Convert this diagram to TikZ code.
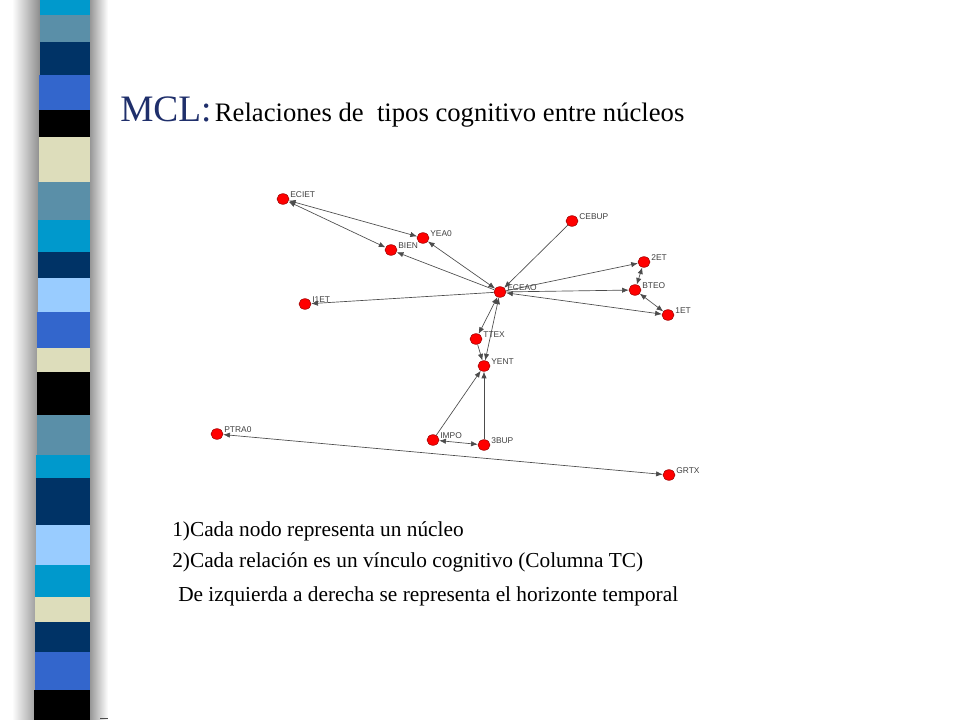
\documentclass[tikz,border=0pt]{standalone}
\usepackage{fontspec}
\setmainfont{Liberation Serif}
\newfontfamily\labelfont{Liberation Sans}
\usetikzlibrary{arrows.meta,shapes.geometric}
\definecolor{cyanband}{HTML}{0099CC}
\definecolor{steelband}{HTML}{5A8FA8}
\definecolor{navyband}{HTML}{003366}
\definecolor{royalband}{HTML}{3366CC}
\definecolor{beigeband}{HTML}{DDDDBB}
\definecolor{lightband}{HTML}{99CCFF}
\definecolor{titlenavy}{HTML}{1F2F6B}
\tikzstyle{nucleo}=[
        ellipse, draw=red!60!black, fill=red, minimum width=9pt, minimum height=8pt, inner sep=0pt
]
\tikzstyle{nlabel}=[
        font=\labelfont\fontsize{6.3}{7}\selectfont, text=black!75, inner sep=1pt
]
\tikzstyle{rel}=[
        draw=black!70, line width=0.5pt, -{Latex[length=5pt,width=4pt]}
]
\tikzstyle{rel2}=[
        draw=black!70, line width=0.5pt, {Latex[length=5pt,width=4pt]}-{Latex[length=5pt,width=4pt]}
]
\begin{document}
\begin{tikzpicture}[x=0.75pt,y=-0.75pt]
                        \useasboundingbox (0,0) rectangle (960,720);
                        % shadow of the stripe
                        \shade[left color=white, right color=black!45] (12,0) rectangle (40,720);
                        \shade[left color=black!45, right color=white] (88,0) rectangle (108,720);
                        % stripe bands
                        \foreach \ya/\yb/\c in {0/15/cyanband, 15/42/steelband, 42/75/navyband,
                            75/110/royalband, 110/137/black, 137/182/beigeband, 182/220/steelband,
                            220/252/cyanband, 252/278/navyband, 278/312/lightband, 312/348/royalband,
                            348/372/beigeband, 372/415/black, 415/455/steelband, 455/478/cyanband,
                            478/525/navyband, 525/565/lightband, 565/597/cyanband, 597/622/beigeband,
                            622/652/navyband, 652/690/royalband, 690/720/black} {
                            \fill[\c] (40-\ya/120,\ya) rectangle (90,\yb);
                        }
                        \draw[black!70] (100,718) -- (108,718);

                        % title
                        \node[anchor=base west, inner sep=0pt] (title) at (120,122)
                            {\textcolor{titlenavy}{\fontsize{28}{30}\selectfont MCL:} \fontsize{20}{22}\selectfont Relaciones de\ \ tipos cognitivo entre núcleos};

                        % nuclei
                        \node[nucleo] (ECIET) at (283,199) {};
                        \node[nucleo] (YEA0) at (423,238) {};
                        \node[nucleo] (BIEN) at (391,250) {};
                        \node[nucleo] (CEBUP) at (572,221) {};
                        \node[nucleo] (2ET) at (644,262) {};
                        \node[nucleo] (ECEAO) at (500,292) {};
                        \node[nucleo] (BTEO) at (635,290) {};
                        \node[nucleo] (1ET) at (668,315) {};
                        \node[nucleo] (I1ET) at (305,304) {};
                        \node[nucleo] (TTEX) at (476,339) {};
                        \node[nucleo] (YENT) at (484,366) {};
                        \node[nucleo] (IMPO) at (433,440) {};
                        \node[nucleo] (3BUP) at (484,445) {};
                        \node[nucleo] (PTRA0) at (217,434) {};
                        \node[nucleo] (GRTX) at (669,475) {};

                        % labels
                        \foreach \n/\t in {ECIET/ECIET, YEA0/YEA0, BIEN/BIEN, CEBUP/CEBUP, 2ET/2ET,
                            ECEAO/ECEAO, BTEO/BTEO, 1ET/1ET, I1ET/I1ET, TTEX/TTEX, YENT/YENT,
                            IMPO/IMPO, 3BUP/3BUP, PTRA0/PTRA0, GRTX/GRTX} {
                            \node[nlabel, anchor=south west] (l\n) at ([xshift=1pt,yshift=-3pt]\n.north east) {\t};
                        }

                        % relations
                        \draw[rel2] (ECIET) -- (YEA0);
                        \draw[rel2] (ECIET) -- (BIEN);
                        \draw[rel2] (ECEAO) -- (YEA0);
                        \draw[rel] (ECEAO) -- (BIEN);
                        \draw[rel] (CEBUP) -- (ECEAO);
                        \draw[rel] (ECEAO) -- (2ET);
                        \draw[rel] (ECEAO) -- (BTEO);
                        \draw[rel2] (ECEAO) -- (1ET);
                        \draw[rel2] (2ET) -- (BTEO);
                        \draw[rel2] (BTEO) -- (1ET);
                        \draw[rel] (ECEAO) -- (I1ET);
                        \draw[rel2] (ECEAO) -- (TTEX);
                        \draw[rel2] (ECEAO) -- (YENT);
                        \draw[rel] (TTEX) -- (YENT);
                        \draw[rel] (IMPO) -- (YENT);
                        \draw[rel] (3BUP) -- (YENT);
                        \draw[rel2] (IMPO) -- (3BUP);
                        \draw[rel2] (PTRA0) -- (GRTX);

                        % notes
                        \node[anchor=base west, inner sep=0pt, font=\fontsize{16}{18}\selectfont] (n1) at (172,536) {1)Cada nodo representa un núcleo};
                        \node[anchor=base west, inner sep=0pt, font=\fontsize{16}{18}\selectfont] (n2) at (172,567) {2)Cada relación es un vínculo cognitivo (Columna TC)};
                        \node[anchor=base west, inner sep=0pt, font=\fontsize{16}{18}\selectfont] (n3) at (178,601) {De izquierda a derecha se representa el horizonte temporal};
                    \end{tikzpicture}
\end{document}
